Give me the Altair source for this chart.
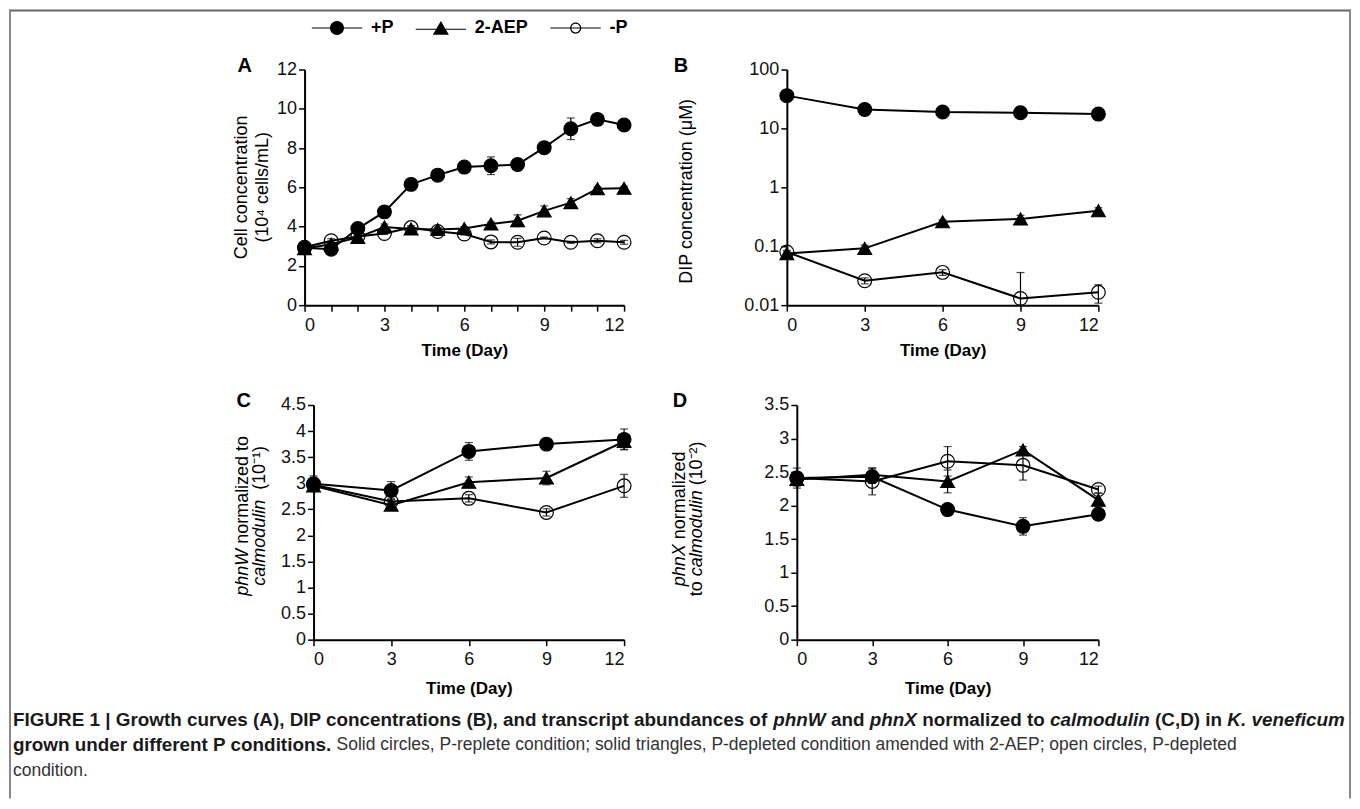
import altair as alt
import pandas as pd

FONT = "Liberation Sans"
SERIES = ["+P", "2-AEP", "-P"]
DAYS_A = list(range(13))
DAYS = [0, 3, 6, 9, 12]

# ---------------- data ----------------
A_VAL = {
    "+P":    [2.92, 2.85, 3.9, 4.75, 6.15, 6.62, 7.03, 7.1, 7.16, 8.02, 8.98, 9.46, 9.17],
    "2-AEP": [2.88, 3.1, 3.45, 3.98, 3.88, 3.85, 3.9, 4.13, 4.3, 4.8, 5.22, 5.93, 5.95],
    "-P":    [2.95, 3.28, 3.5, 3.65, 3.95, 3.75, 3.62, 3.22, 3.2, 3.42, 3.2, 3.28, 3.2],
}
A_ERR = {
    "+P":    [0.1, 0.1, 0.15, 0.2, 0.3, 0.15, 0.1, 0.45, 0.3, 0.15, 0.55, 0.12, 0.25],
    "2-AEP": [0.1, 0.1, 0.1, 0.15, 0.1, 0.1, 0.1, 0.1, 0.3, 0.25, 0.2, 0.1, 0.1],
    "-P":    [0.05, 0.1, 0.05, 0.05, 0.1, 0.1, 0.05, 0.1, 0.2, 0.05, 0.05, 0.1, 0.1],
}
B_VAL = {
    "+P":    [36, 21, 19, 18.5, 17.5],
    "2-AEP": [0.075, 0.092, 0.26, 0.29, 0.40],
    "-P":    [0.08, 0.026, 0.036, 0.013, 0.0165],
}
B_ERR = {
    "+P":    [3, 1.5, 1, 1, 1],
    "2-AEP": [0.005, 0.012, 0.02, 0.045, 0.05],
    "-P":    [0.005, 0.003, 0.004, 0.0228, 0.0057],
}
C_VAL = {
    "+P":    [2.99, 2.86, 3.61, 3.75, 3.84],
    "2-AEP": [2.95, 2.58, 3.02, 3.1, 3.8],
    "-P":    [2.97, 2.65, 2.71, 2.44, 2.95],
}
C_ERR = {
    "+P":    [0.15, 0.17, 0.17, 0.04, 0.2],
    "2-AEP": [0.1, 0.05, 0.1, 0.13, 0.15],
    "-P":    [0.05, 0.05, 0.07, 0.07, 0.22],
}
D_VAL = {
    "+P":    [2.41, 2.43, 1.94, 1.69, 1.87],
    "2-AEP": [2.39, 2.46, 2.36, 2.83, 2.08],
    "-P":    [2.41, 2.36, 2.66, 2.6, 2.24],
}
D_ERR = {
    "+P":    [0.15, 0.1, 0.03, 0.13, 0.03],
    "2-AEP": [0.1, 0.1, 0.17, 0.05, 0.1],
    "-P":    [0.05, 0.2, 0.22, 0.22, 0.05],
}

# ---------------- text metrics (Arial/Liberation Sans widths, 1/1000 em) ----------------
UP = "ABCDEFGHIJKLMNOPQRSTUVWXYZ"
LO = "abcdefghijklmnopqrstuvwxyz"
REG = dict(zip(UP, [667, 667, 722, 722, 667, 611, 778, 722, 278, 500, 667, 556, 833, 722, 778, 667, 778, 722, 667, 611, 722, 667, 944, 667, 667, 611]))
REG.update(zip(LO, [556, 556, 500, 556, 556, 278, 556, 556, 222, 222, 500, 222, 833, 556, 556, 556, 556, 333, 500, 278, 556, 500, 722, 500, 500, 500]))
REG.update({" ": 278, "(": 333, ")": 333, ",": 278, "-": 333, ".": 278, "/": 278, ":": 278, ";": 278, "|": 260, "+": 584,
            "\u2074": 333, "\u207b": 333, "\u00b9": 333, "\u00b2": 333, "\u03bc": 576})
BOLD = dict(zip(UP, [722, 722, 722, 722, 667, 611, 778, 722, 278, 556, 722, 611, 833, 722, 778, 667, 778, 722, 667, 611, 722, 667, 944, 667, 667, 611]))
BOLD.update(zip(LO, [556, 611, 556, 611, 556, 333, 611, 611, 278, 278, 556, 278, 889, 611, 611, 611, 611, 389, 556, 333, 611, 556, 778, 556, 556, 500]))
BOLD.update({" ": 278, "(": 333, ")": 333, ",": 278, "-": 333, ".": 278, "/": 278, ":": 333, ";": 333, "|": 280, "+": 584})
for ch in "0123456789":
    REG[ch] = 556
    BOLD[ch] = 556


def tw(s, bold, size):
    table = BOLD if bold else REG
    return sum(table.get(c, 556) for c in s) * size / 1000.0


def runs(pieces, sizes):
    out, pos = [], 0.0
    for text, style in pieces:
        bold = "b" in style
        size = sizes["b"] if bold else sizes["r"]
        stripped = text.lstrip(" ")
        pos += tw(text[: len(text) - len(stripped)], bold, size)
        body = stripped.rstrip(" ")
        out.append((body, style, pos, size))
        pos += tw(stripped, bold, size)
    return out, pos


ONE = pd.DataFrame({"k": [0]})


def text_layer(text, x, y, size, style="", angle=0, align="left", color="black"):
    return alt.Chart(ONE).mark_text(
        text=text, font=FONT, fontSize=size,
        fontWeight="bold" if "b" in style else "normal",
        fontStyle="italic" if "i" in style else "normal",
        angle=angle, align=align, baseline="middle", color=color,
    ).encode(x=alt.value(x), y=alt.value(y))


def vtitle(pieces, x, yc, size=18):
    parts, total = runs(pieces, {"b": size, "r": size})
    start = yc + total / 2.0
    return [text_layer(t, x, start - p, sz, style=s, angle=270) for t, s, p, sz in parts]


def long_df(days, vals, errs, floor=None):
    rows = []
    for s in SERIES:
        for d, v, e in zip(days, vals[s], errs[s]):
            lo = v - e
            if floor is not None:
                lo = max(lo, floor)
            rows.append({"day": d, "value": v, "lo": lo, "hi": v + e, "series": s})
    return pd.DataFrame(rows)


W, H = 1344, 790   # whole figure (drawing area)


def panel(df, left, right, top, bottom, ydomain, yvalues, xvalues, log=False, every3=False, title_pad=8):
    xs = alt.Scale(domain=[0, 12], nice=False, zero=False, range=[left, right])
    if log:
        ys = alt.Scale(type="log", domain=ydomain, nice=False, range=[bottom, top])
    else:
        ys = alt.Scale(domain=ydomain, nice=False, zero=False, range=[bottom, top])
    xax = alt.Axis(values=xvalues, title="Time (Day)", orient="bottom", offset=bottom - H,
                   labelOverlap=False, labelPadding=5, titlePadding=title_pad,
                   labelExpr="datum.value % 3 == 0 ? datum.label : ''" if every3 else "datum.label")
    yax = alt.Axis(values=yvalues, title=None, orient="left", offset=-left, format="~g",
                   labelOverlap=False, labelPadding=2)
    base = alt.Chart(df)
    X = alt.X("day:Q", scale=xs, axis=xax)
    lines = base.mark_line(color="black", strokeWidth=2).encode(
        x=X, y=alt.Y("value:Q", scale=ys, axis=yax), detail="series:N")
    rules = base.mark_rule(color="black", strokeWidth=1.2).encode(
        x=X, y=alt.Y("lo:Q", scale=ys, axis=yax), y2="hi:Q")
    cap_hi = base.mark_tick(orient="horizontal", size=8, thickness=1.2, color="black").encode(
        x=X, y=alt.Y("hi:Q", scale=ys, axis=yax))
    cap_lo = base.mark_tick(orient="horizontal", size=8, thickness=1.2, color="black").encode(
        x=X, y=alt.Y("lo:Q", scale=ys, axis=yax))
    pts = base.mark_point(filled=False, strokeWidth=1.2, opacity=1, size=190).encode(
        x=X, y=alt.Y("value:Q", scale=ys, axis=yax),
        stroke=alt.value("black"),
        shape=alt.Shape("series:N", scale=alt.Scale(domain=SERIES, range=["circle", "triangle-up", "circle"]), legend=None),
        fill=alt.Fill("series:N", scale=alt.Scale(domain=SERIES, range=["black", "black", "transparent"]), legend=None),
    )
    return alt.layer(lines, rules, cap_hi, cap_lo, pts)


# panel plot areas, in pixels of the drawing area
A_BOX = (296, 616, 60, 296)
B_BOX = (779, 1091, 60, 296)
C_BOX = (305, 616, 396, 631)
D_BOX = (789, 1091, 396, 631)

chart_A = panel(long_df(DAYS_A, A_VAL, A_ERR), *A_BOX, [0, 12], list(range(0, 13, 2)), DAYS_A, every3=True)
chart_B = panel(long_df(DAYS, B_VAL, B_ERR, floor=0.01), *B_BOX, [0.01, 100], [0.01, 0.1, 1, 10, 100], DAYS, log=True)
chart_C = panel(long_df(DAYS, C_VAL, C_ERR), *C_BOX, [0, 4.5], [i * 0.5 for i in range(10)], DAYS, title_pad=12)
chart_D = panel(long_df(DAYS, D_VAL, D_ERR), *D_BOX, [0, 3.5], [i * 0.5 for i in range(8)], DAYS, title_pad=12)

# ---------- legend (a real legend; symbols = line + marker drawn as filled paths) ----------
LINE = "M-3.6,-0.07H3.6V0.07H-3.6Z"
LEG_PATHS = [
    LINE + "M1,0A1,1,0,1,1,-1,0A1,1,0,1,1,1,0Z",
    "M-3.6,0.1H3.6V0.24H-3.6Z" + "M0,-1L1.15,0.95L-1.15,0.95Z",
    LINE + "M0.8,0A0.8,0.8,0,1,1,-0.8,0A0.8,0.8,0,1,1,0.8,0Z"
         + "M0.63,0A0.63,0.63,0,1,0,-0.63,0A0.63,0.63,0,1,0,0.63,0Z",
]
leg = alt.Legend(title=None, orient="none", legendX=319.5, legendY=9.5, direction="horizontal",
                 symbolSize=196, symbolStrokeWidth=0, symbolOpacity=1,
                 labelFont=FONT, labelFontSize=18, labelFontWeight="bold", labelColor="black",
                 labelOffset=25, columnPadding=21)
legend_layer = alt.Chart(pd.DataFrame({"Series": SERIES})).transform_filter("false").mark_point(
    filled=True).encode(
    x=alt.value(0), y=alt.value(0),
    shape=alt.Shape("Series:N", scale=alt.Scale(domain=SERIES, range=LEG_PATHS), legend=leg),
    fill=alt.Fill("Series:N", scale=alt.Scale(domain=SERIES, range=["black", "black", "black"]), legend=leg),
)

# ---------- panel letters and y titles ----------
deco = [
    text_layer("A", 236, 57, 20, style="b", align="center"),
    text_layer("B", 673, 57, 20, style="b", align="center"),
    text_layer("C", 235, 392, 20, style="b", align="center"),
    text_layer("D", 672, 392, 20, style="b", align="center"),
    text_layer("Cell concentration", 233, 178, 18, angle=270, align="center"),
    text_layer("(10\u2074 cells/mL)", 254, 178, 18, angle=270, align="center"),
    text_layer("DIP concentration (\u03bcM)", 679, 182, 18, angle=270, align="center"),
]
deco += vtitle([("phnW", "i"), (" normalized to", "")], 234, 507)
deco += vtitle([("calmodulin", "i"), ("  (10\u207b\u00b9)", "")], 251, 507)
deco += vtitle([("phnX", "i"), (" normalized", "")], 672, 510)
deco += vtitle([("to ", ""), ("calmodulin", "i"), (" (10\u207b\u00b2)", "")], 689, 510)

# ---------- caption ----------
CAP_SIZES = {"b": 18.9, "r": 17.5}
CAP_X = 4
CAP_Y = [711, 737, 763]
cap_lines = [
    [("FIGURE 1 | Growth curves (A), DIP concentrations (B), and transcript abundances of ", "b"),
     ("phnW", "bi"), (" and ", "b"), ("phnX", "bi"), (" normalized to ", "b"), ("calmodulin", "bi"),
     (" (C,D) in ", "b"), ("K. veneficum", "bi")],
    [("grown under different P conditions.", "b"),
     (" Solid circles, P-replete condition; solid triangles, P-depleted condition amended with 2-AEP; open circles, P-depleted", "")],
    [("condition.", "")],
]
for li, line in enumerate(cap_lines):
    parts, _ = runs(line, CAP_SIZES)
    for t, s, p, sz in parts:
        deco.append(text_layer(t, CAP_X + p, CAP_Y[li], sz, style=s,
                               color="#1a1a1a" if "b" in s else "#333333"))

# ---------- frame ----------
frame = [
    alt.Chart(ONE).mark_rule(color="#666666", strokeWidth=2).encode(
        x=alt.value(0), x2=alt.value(W), y=alt.value(1)),
    alt.Chart(ONE).mark_rule(color="#888888", strokeWidth=2).encode(
        x=alt.value(1), y=alt.value(0), y2=alt.value(H)),
    alt.Chart(ONE).mark_rule(color="#888888", strokeWidth=2).encode(
        x=alt.value(W - 1), y=alt.value(0), y2=alt.value(H)),
]

chart = alt.layer(
    *frame, chart_A, chart_B, chart_C, chart_D, legend_layer, *deco
).resolve_scale(
    x="independent", y="independent", shape="independent", fill="independent"
).properties(
    width=W, height=H, padding=0
).configure_view(stroke=None).configure_axis(
    labelFont=FONT, labelFontSize=18, labelColor="#111111",
    titleFont=FONT, titleFontSize=17, titleFontWeight="bold", titleColor="black",
    domainColor="black", domainWidth=2, tickColor="black", tickWidth=1.5, tickSize=6, grid=False,
)

chart.save("out.html", embed_options={"renderer": "svg", "actions": False})
